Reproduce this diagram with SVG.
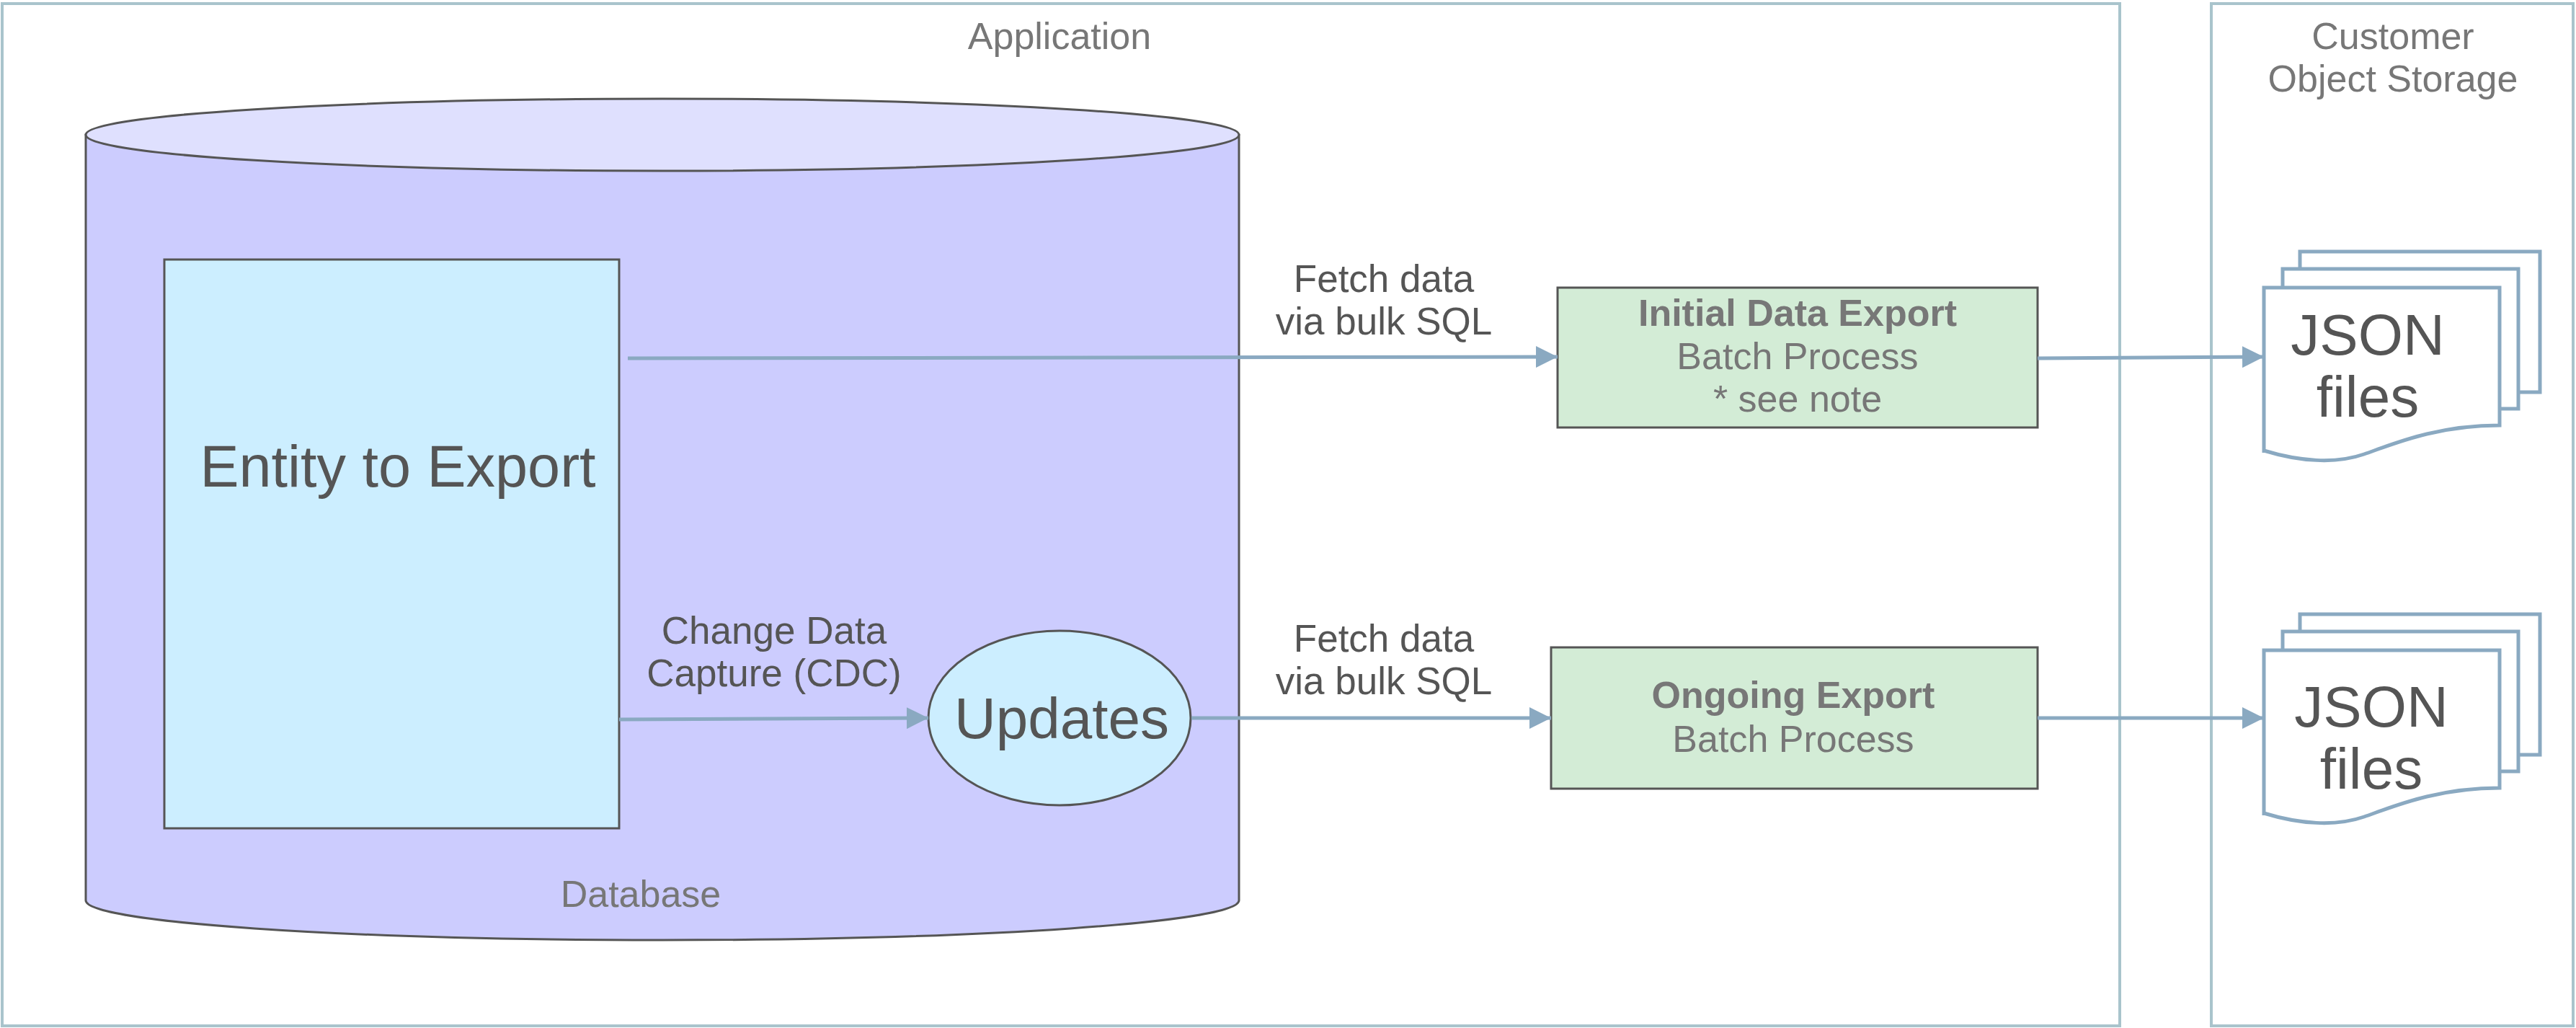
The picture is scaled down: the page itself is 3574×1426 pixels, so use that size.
<svg xmlns="http://www.w3.org/2000/svg" width="3574" height="1426" viewBox="0 0 3574 1426">
<style>
text{font-family:"Liberation Sans",Arial,sans-serif;text-anchor:middle}
.frame{fill:none;stroke:#a9c4cc;stroke-width:4}
.title{fill:#777;font-size:52px}
.lbl{fill:#555;font-size:53px}
.conn{fill:none;stroke:#8aa9c1;stroke-width:5}
.box{fill:#d3ecd6;stroke:#555;stroke-width:3}
.btxt{fill:#777;font-size:52px}
.doc{fill:#fff;stroke:#8aa9c1;stroke-width:5}
.big{fill:#555;font-size:80px}
</style>
<defs>
<marker id="ah" viewBox="0 0 10 10" refX="10" refY="5" markerWidth="6" markerHeight="6" markerUnits="strokeWidth" orient="auto"><path d="M0,0L10,5L0,10z" fill="#8aa9c1"/></marker>
<g id="docs">
<path class="doc" d="M3191,544V349H3524V544Z"/>
<path class="doc" d="M3167,567V373H3494V567Z"/>
<path class="doc" d="M3141,628V399H3468V590C3380,590 3320,616 3280,630C3240,644 3190,640 3141,625Z"/>
</g>
</defs>
<rect width="3574" height="1426" fill="#fff"/>
<g id="application"><rect class="frame" x="3" y="5" width="2938" height="1418"/><text class="title" x="1470" y="68">Application</text></g>
<g id="customer"><rect class="frame" x="3068" y="5" width="502" height="1418"/><text class="title" x="3320" y="68">Customer</text><text class="title" x="3320" y="127">Object Storage</text></g>
<g id="database">
<path d="M119,187V1249A800,55 0 0 0 1719,1249V187Z" fill="#ccccfe" stroke="#555" stroke-width="3"/>
<ellipse cx="919" cy="187" rx="800" ry="50" fill="#dfe0fe" stroke="#555" stroke-width="3"/>
<text class="title" x="889" y="1258">Database</text>
</g>
<g id="entity"><rect x="228" y="360" width="631" height="789" fill="#cceeff" stroke="#555" stroke-width="3"/><text x="552" y="675" style="fill:#555;font-size:81px">Entity to Export</text></g>
<g id="updates"><ellipse cx="1470" cy="996" rx="182" ry="121" fill="#cceeff" stroke="#555" stroke-width="3"/><text class="big" x="1473" y="1024">Updates</text></g>
<g id="initial"><rect class="box" x="2161" y="399" width="666" height="194"/><text class="btxt" x="2494" y="452" font-weight="bold">Initial Data Export</text><text class="btxt" x="2494" y="512">Batch Process</text><text class="btxt" x="2494" y="571">* see note</text></g>
<g id="ongoing"><rect class="box" x="2152" y="898" width="675" height="196"/><text class="btxt" x="2488" y="982" font-weight="bold">Ongoing Export</text><text class="btxt" x="2488" y="1043">Batch Process</text></g>
<g id="json1"><use href="#docs"/><text class="big" x="3285" y="492">JSON</text><text class="big" x="3285" y="578">files</text></g>
<g id="json2"><use href="#docs" y="503"/><text class="big" x="3290" y="1008">JSON</text><text class="big" x="3290" y="1094">files</text></g>
<g id="connectors">
<path class="conn" d="M871,497L2161,495" marker-end="url(#ah)"/>
<path class="conn" d="M859,998L1288,996" marker-end="url(#ah)"/>
<path class="conn" d="M1653,996H2152" marker-end="url(#ah)"/>
<path class="conn" d="M2827,497L3141,495" marker-end="url(#ah)"/>
<path class="conn" d="M2827,996H3141" marker-end="url(#ah)"/>
<text class="lbl" x="1920" y="405">Fetch data</text><text class="lbl" x="1920" y="464">via bulk SQL</text>
<text class="lbl" x="1920" y="904">Fetch data</text><text class="lbl" x="1920" y="963">via bulk SQL</text>
<text class="lbl" x="1074" y="893">Change Data</text><text class="lbl" x="1074" y="952">Capture (CDC)</text>
</g>
</svg>
